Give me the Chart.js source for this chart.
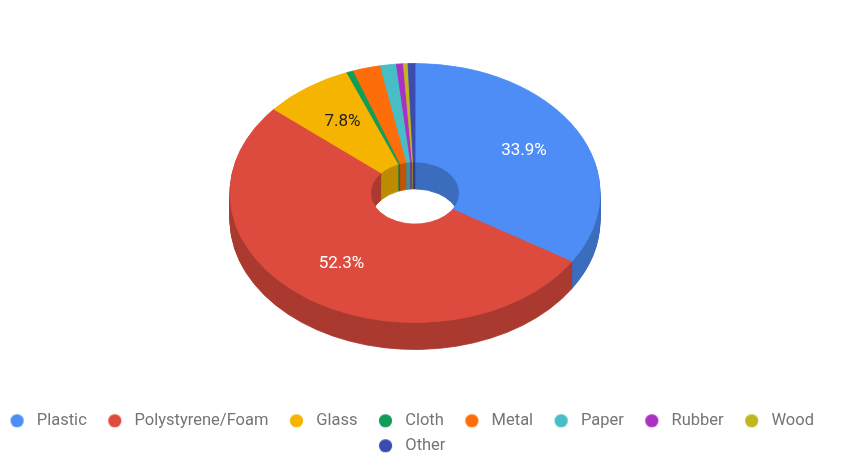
<!DOCTYPE html>
<html>
<head>
<meta charset="utf-8">
<script src="https://cdn.jsdelivr.net/npm/chart.js@4.4.0/dist/chart.umd.min.js"></script>
<style>
  html, body { margin: 0; padding: 0; background: #fff; }
  #wrap { width: 841px; height: 464px; }
</style>
</head>
<body>
<div id="wrap"><canvas id="debris"></canvas></div>
<script>
const materials = ["Plastic", "Polystyrene/Foam", "Glass", "Cloth", "Metal", "Paper", "Rubber", "Wood", "Other"];
const shares = [33.9, 52.3, 7.8, 0.6, 2.4, 1.4, 0.6, 0.4, 0.6];
const colours = ["#4e8df5", "#dd4b3e", "#f5b400", "#109d58", "#fd6d0a", "#47bdc6", "#ab30c4", "#c2b61f", "#3b4cb0"];

// where the tilted pie sits on the canvas, and how thick it is
const PIE_X = 415, PIE_Y = 193, TILT = 0.70, DEPTH = 27;

function shade(hex, f) {
  const n = parseInt(hex.slice(1), 16);
  const r = Math.round(((n >> 16) & 255) * f);
  const g = Math.round(((n >> 8) & 255) * f);
  const b = Math.round((n & 255) * f);
  return `rgb(${ r }, ${ g }, ${ b })`;
}
const sideColours = colours.map((c) => shade(c, 0.77));

function legendDot(colour) {
  const c = document.createElement("canvas");
  c.width = 31;
  c.height = 17;
  const g = c.getContext("2d");
  g.fillStyle = colour;
  g.beginPath();
  g.arc(19.5, 8.5, 6.6, 0, Math.PI * 2);
  g.fill();
  return c;
}

function tiltTo(ctx, cx, cy, dy) {
  ctx.translate(PIE_X, PIE_Y + dy);
  ctx.scale(1, TILT);
  ctx.translate(-cx, -cy);
}

// squash the doughnut into an ellipse and stack darker copies under it for the side walls
const tiltPlugin = {
  id: "tilt",
  beforeDatasetsDraw(chart) {
    const ctx = chart.ctx;
    const arcs = chart.getDatasetMeta(0).data;
    const { x, y } = arcs[0];

    for (let d = DEPTH; d > 0; d--) {
      ctx.save();
      tiltTo(ctx, x, y, d);
      arcs.forEach((arc, i) => {
        const p = arc.getProps(["startAngle", "endAngle", "innerRadius", "outerRadius"]);
        ctx.beginPath();
        ctx.arc(x, y, p.outerRadius, p.startAngle, p.endAngle);
        ctx.arc(x, y, p.innerRadius, p.endAngle, p.startAngle, true);
        ctx.closePath();
        ctx.fillStyle = sideColours[i];
        ctx.strokeStyle = sideColours[i];
        ctx.lineWidth = 1;
        ctx.fill();
        ctx.stroke();
      });
      ctx.restore();
    }

    ctx.save();
    tiltTo(ctx, x, y, 0);
  },
  afterDatasetsDraw(chart) {
    const ctx = chart.ctx;
    ctx.restore();

    const arcs = chart.getDatasetMeta(0).data;
    ctx.save();
    ctx.font = "17px Roboto";
    ctx.textAlign = "center";
    ctx.textBaseline = "middle";
    arcs.forEach((arc, i) => {
      if (shares[i] < 5) return;
      const p = arc.getProps(["startAngle", "endAngle", "innerRadius", "outerRadius"]);
      const mid = (p.startAngle + p.endAngle) / 2;
      const r = p.innerRadius + 0.57 * (p.outerRadius - p.innerRadius);
      const lx = PIE_X + Math.cos(mid) * r;
      const ly = PIE_Y + Math.sin(mid) * r * TILT;
      ctx.fillStyle = i === 2 ? "#222222" : "#ffffff";
      ctx.fillText(shares[i].toFixed(1) + "%", lx, ly);
    });
    ctx.restore();
  }
};

new Chart(document.getElementById("debris"), {
  type: "doughnut",
  data: {
    labels: materials,
    datasets: [{
      data: shares,
      backgroundColor: colours,
      borderColor: colours,
      borderWidth: 1,
      hoverOffset: 0,
      radius: 185,
      cutout: "24%",
      clip: false
    }]
  },
  options: {
    responsive: true,
    maintainAspectRatio: false,
    animation: false,
    events: [],
    layout: { padding: { left: -25, right: 4.5, top: 0, bottom: 0 } },
    plugins: {
      legend: {
        position: "bottom",
        labels: {
          usePointStyle: true,
          pointStyleWidth: 31,
          padding: 8.5,
          color: "#757575",
          font: { family: "Roboto", size: 16.5 },
          generateLabels(chart) {
            const items = Chart.overrides.doughnut.plugins.legend.labels.generateLabels(chart);
            items.forEach((item) => { item.pointStyle = legendDot(item.fillStyle); });
            return items;
          }
        }
      },
      tooltip: { enabled: false }
    }
  },
  plugins: [tiltPlugin]
});
</script>
</body>
</html>
